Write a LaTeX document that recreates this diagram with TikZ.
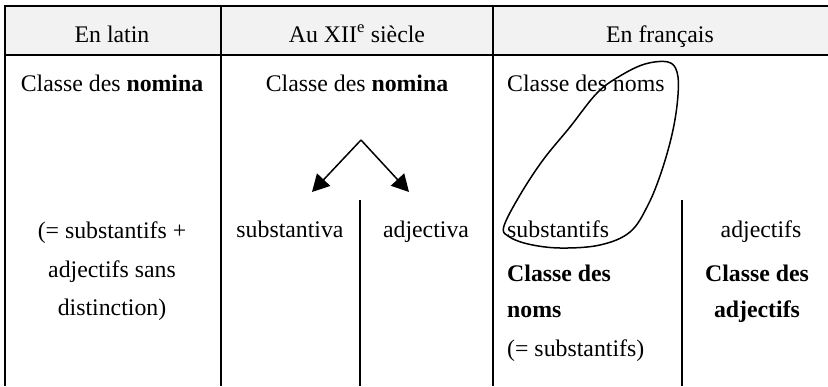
\documentclass[tikz,border=0pt]{standalone}
\usepackage{fontspec}
\setmainfont{Liberation Serif}
\usetikzlibrary{arrows.meta}
\tikzset{
  cell/.style={font=\fontsize{23.8}{28}\selectfont, anchor=base, inner sep=0pt},
  cellw/.style={cell, anchor=base west},
  rule/.style={line width=2.5pt},
  split/.style={line width=1.5pt, -{Triangle[length=17pt,width=18pt]}}
}
\begin{document}
\begin{tikzpicture}[x=1pt,y=-1pt]
    \useasboundingbox (0,0) rectangle (828,386);
    % header band and rules
    \fill[black!5] (5,6) rectangle (828,55);
    \draw[rule] (828,6) -- (5,6) -- (5,386);
    \draw[rule] (5,55) -- (828,55);
    \draw[rule] (221,6) -- (221,386);
    \draw[rule] (493,6) -- (493,386);
    \draw[rule] (360,200) -- (360,386);
    \draw[rule] (682,200) -- (682,386);
    % header
    \node[cell] (latin) at (112,42) {En latin};
    \node[cell] (siecle) at (357,42) {Au XII\textsuperscript{e} siècle};
    \node[cell] (francais) at (660,42) {En français};
    % first row
    \node[cell] (nomlat) at (112,91) {Classe des \textbf{nomina}};
    \node[cell] (nomxii) at (357,91) {Classe des \textbf{nomina}};
    \node[cellw] (nomfr) at (507,91) {Classe des noms};
    % split arrows
    \coordinate (top) at (361,140);
    \coordinate (tipl) at (312,192);
    \coordinate (tipr) at (409,192);
    \draw[split] (top) -- (tipl);
    \draw[split] (top) -- (tipr);
    % latin column
    \node[cell] (lat1) at (112,238) {(= substantifs +};
    \node[cell] (lat2) at (112,277) {adjectifs sans};
    \node[cell] (lat3) at (112,315) {distinction)};
    % XIIe column
    \node[cell] (subva) at (290,237) {substantiva};
    \node[cell] (adjva) at (426,237) {adjectiva};
    % french column
    \node[cellw] (subfs) at (507,237) {substantifs};
    \node[cellw] (cln1) at (507,281) {\textbf{Classe des}};
    \node[cellw] (cln2) at (507,317) {\textbf{noms}};
    \node[cellw] (cln3) at (507,356) {(= substantifs)};
    \node[cell] (adjfs) at (761,237) {adjectifs};
    \node[cell] (cla1) at (757,281) {\textbf{Classe des}};
    \node[cell] (cla2) at (757,317) {\textbf{adjectifs}};
    % loop round the nouns
    \draw[line width=1.5pt] plot[smooth cycle, tension=0.6] coordinates {
      (504,226) (520,195) (543,160) (570,127) (597,93) (620,76) (645,64)
      (668,62) (677,72) (678,95) (673,130) (662,170) (648,205) (630,232)
      (600,245) (560,248) (528,244) (508,236)};
\end{tikzpicture}
\end{document}
